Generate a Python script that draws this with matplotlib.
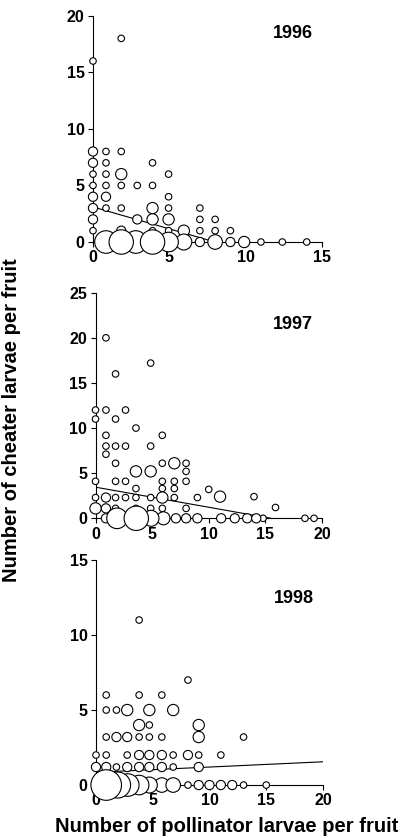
import numpy as np
import matplotlib
matplotlib.use("Agg")
from matplotlib import pyplot as plt

plt.rcParams['font.family'] = ['Liberation Sans', 'DejaVu Sans']
plt.rcParams['font.weight'] = 'bold'

# 1996: pollinator larvae (x), cheater larvae (y), number of fruits (n)
x96 = [0, 0, 0, 0, 0, 0, 0, 0, 0,
       0.85, 0.85, 0.85, 0.85, 0.85, 0.85,
       1.85, 1.85, 1.85, 1.85, 1.85, 1.85,
       2.9, 2.9,
       3.9, 3.9, 3.9, 3.9, 3.9,
       4.95, 4.95, 4.95, 4.95, 4.95,
       5.95, 7, 7, 7, 8, 8, 9,
       0.85, 1.85, 2.8, 3.9, 4.95, 5.95, 7, 8, 9, 9.9, 11, 12.4, 14]
y96 = [16, 8, 7, 6, 5, 4, 3, 2, 1,
       8, 7, 6, 5, 4, 3,
       18, 8, 6, 5, 3, 1,
       5, 2,
       7, 5, 3, 2, 1,
       6, 4, 3, 2, 1,
       1, 3, 2, 1, 2, 1, 1,
       0, 0, 0, 0, 0, 0, 0, 0, 0, 0, 0, 0, 0]
n96 = [1, 2, 2, 1, 1, 2, 2, 2, 1,
       1, 1, 1, 1, 2, 1,
       1, 1, 3, 1, 1, 2,
       1, 2,
       1, 1, 3, 3, 1,
       1, 1, 1, 3, 1,
       3, 1, 1, 1, 1, 1, 1,
       12, 14, 12, 14, 9, 6, 2, 5, 2, 3, 1, 1, 1]
fit96_x = [0, 8]
fit96_y = [3.1, 0]

# 1997
x97 = [0.92, 4.87, 1.77,
       0, 0.92, 2.65, 0, 1.77, 3.57, 0.92, 5.9,
       0.92, 1.77, 2.65, 4.87, 0.92, 1.77, 5.9, 6.96, 8, 8, 3.57, 4.87,
       0, 1.77, 2.65, 5.9, 6.96, 8, 3.57, 5.9, 6.96, 10,
       0, 0.92, 1.77, 2.65, 3.57, 4.87, 5.9, 6.96, 9.0, 11.0, 14.0,
       0, 0.92, 1.77, 3.57, 4.87, 5.9, 8, 15.9,
       0.92, 1.9, 3.6, 4.9, 6.0, 7.1, 8.0, 9.0, 11.1, 12.3, 13.4, 14.2, 14.8, 18.5, 19.3]
y97 = [20, 17.2, 16,
       12, 12, 12, 11, 11, 10, 9.2, 9.2,
       8, 8, 8, 8, 7.1, 6.1, 6.1, 6.1, 6.1, 5.2, 5.2, 5.2,
       4.1, 4.1, 4.1, 4.1, 4.1, 4.1, 3.3, 3.3, 3.3, 3.2,
       2.3, 2.3, 2.3, 2.3, 2.3, 2.3, 2.3, 2.3, 2.3, 2.4, 2.4,
       1.1, 1.1, 1.1, 1.1, 1.1, 1.1, 1.1, 1.2,
       0, 0, 0, 0, 0, 0, 0, 0, 0, 0, 0, 0, 0, 0, 0]
n97 = [1, 1, 1,
       1, 1, 1, 1, 1, 1, 1, 1,
       1, 1, 1, 1, 1, 1, 1, 3, 1, 1, 3, 3,
       1, 1, 1, 1, 1, 1, 1, 1, 1, 1,
       1, 2, 1, 1, 1, 1, 3, 1, 1, 3, 1,
       3, 2, 1, 1, 1, 1, 1, 1,
       2, 10, 14, 6, 4, 2, 2, 2, 2, 2, 2, 2, 1, 1, 1]
fit97_x = [0, 15.5]
fit97_y = [3.45, 0]

# 1998
x98 = [3.8, 8.1,
       0.9, 3.8, 5.8,
       0.9, 1.8, 2.75, 4.7, 6.8,
       3.8, 4.7, 9.05,
       0.9, 1.8, 2.75, 3.8, 4.7, 5.8, 9.05, 13,
       0, 0.9, 2.75, 3.8, 4.7, 5.8, 6.8, 8.1, 9.05, 11,
       0, 0.9, 1.8, 2.75, 3.8, 4.7, 5.8, 6.8, 9.05,
       0.9, 1.9, 2.8, 3.8, 4.7, 5.8, 6.8, 8.1, 9.05, 10, 11, 12, 13, 15]
y98 = [11, 7,
       6, 6, 6,
       5, 5, 5, 5, 5,
       4, 4, 4,
       3.2, 3.2, 3.2, 3.2, 3.2, 3.2, 3.2, 3.2,
       2, 2, 2, 2, 2, 2, 2, 2, 2, 2,
       1.2, 1.2, 1.2, 1.2, 1.2, 1.2, 1.2, 1.2, 1.2,
       0, 0, 0, 0, 0, 0, 0, 0, 0, 0, 0, 0, 0, 0]
n98 = [1, 1,
       1, 1, 1,
       1, 1, 3, 3, 3,
       3, 1, 3,
       1, 2, 2, 1, 1, 1, 3, 1,
       1, 1, 1, 2, 2, 2, 1, 2, 1, 1,
       2, 2, 1, 2, 2, 2, 2, 1, 2,
       22, 16, 12, 9, 6, 5, 5, 1, 2, 2, 2, 2, 1, 1]
fit98_x = [0, 20]
fit98_y = [0.85, 1.55]

panels = [
    ("1996", x96, y96, n96, fit96_x, fit96_y, 15, 20, [0.2325, 0.7112, 0.5725, 0.2700], 0.92),
    ("1997", x97, y97, n97, fit97_x, fit97_y, 20, 25, [0.2388, 0.3815, 0.5660, 0.2692], 0.857),
    ("1998", x98, y98, n98, fit98_x, fit98_y, 20, 15, [0.2400, 0.0632, 0.5675, 0.2685], 0.83),
]

fig = plt.figure(figsize=(4, 8.38), dpi=100)

for year, xs, ys, ns, fx, fy, xmax, ymax, rect, ty in panels:
    ax = fig.add_axes(rect)
    xs, ys, ns = np.array(xs), np.array(ys), np.array(ns)
    order = np.argsort(ns, kind='stable')
    ax.plot(fx, fy, 'k-', lw=0.8, zorder=2)
    ax.scatter(xs[order], ys[order], s=22 * ns[order], facecolor='white',
               edgecolor='black', linewidth=0.8, zorder=3, clip_on=False)
    ax.set_xlim(0, xmax)
    ax.set_ylim(0, ymax)
    ax.set_xticks(range(0, xmax + 1, 5))
    ax.set_yticks(range(0, ymax + 1, 5))
    ax.spines['top'].set_visible(False)
    ax.spines['right'].set_visible(False)
    for s in ('left', 'bottom'):
        ax.spines[s].set_linewidth(0.8)
    ax.tick_params(length=3.5, width=0.8, labelsize=11.5, pad=2.5)
    ax.text(0.873, ty, year, transform=ax.transAxes, ha='center', va='center',
            fontsize=13, fontweight='bold')

fig.text(0.566, 0.0135, "Number of pollinator larvae per fruit", ha='center',
         va='center', fontsize=14.5, fontweight='bold')
fig.text(0.03, 0.498, "Number of cheater larvae per fruit", ha='center',
         va='center', rotation=90, fontsize=14.5, fontweight='bold')

fig.savefig("out.png", dpi=100)
